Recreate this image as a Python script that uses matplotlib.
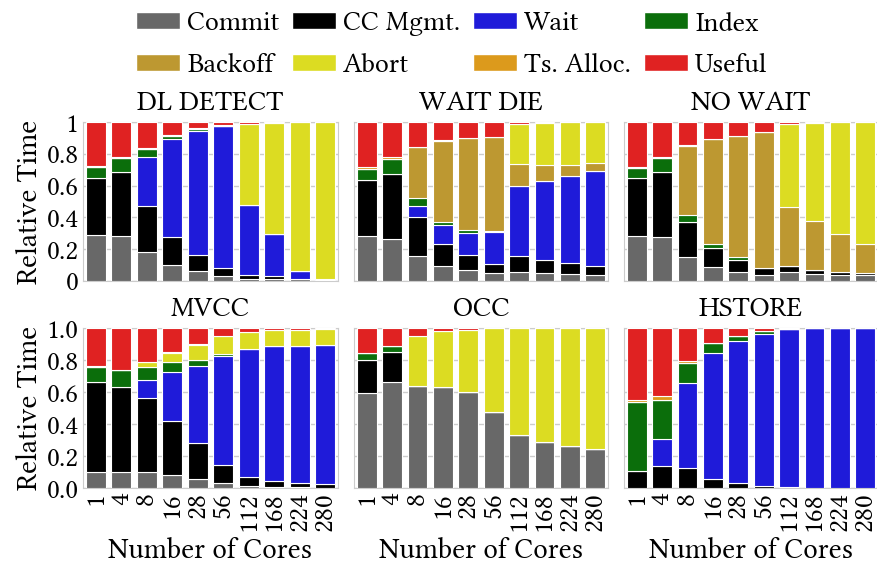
import matplotlib
matplotlib.use("Agg")
import matplotlib.pyplot as plt
import numpy as np
from matplotlib.patches import Patch

plt.rcParams['font.family'] = ['Linux Libertine O', 'Libertinus Serif', 'Crimson Text', 'DejaVu Serif']
FS = 20
plt.rcParams['font.size'] = FS

cores = ["1", "4", "8", "16", "28", "56", "112", "168", "224", "280"]
components = ["Commit", "CC Mgmt.", "Wait", "Index", "Backoff", "Abort", "Ts. Alloc.", "Useful"]
colors = ["#686868", "#000000", "#1f1bd9", "#0b6e0b", "#bd9831", "#dcdc22", "#dc9a1c", "#e02222"]

# each: Commit, CC Mgmt., Wait, Index, Backoff, Abort, Ts. Alloc., Useful
dl_detect = [
    [.29, .28, .185, .10, .06, .03, .015, .015, .01, .005],
    [.355, .405, .285, .175, .105, .05, .023, .015, .005, .002],
    [0, 0, .31, .62, .78, .895, .439, .267, .048, .003],
    [.07, .09, .05, .02, .01, 0, 0, 0, 0, 0],
    [0, 0, 0, 0, 0, 0, 0, 0, 0, 0],
    [0, 0, 0, 0, 0, 0, .513, .698, .937, .99],
    [.01, .005, .005, .005, .005, .005, 0, 0, 0, 0],
    [.275, .22, .165, .08, .04, .02, .01, .005, 0, 0],
]
wait_die = [
    [.28, .265, .16, .095, .07, .05, .055, .05, .045, .04],
    [.355, .41, .24, .14, .095, .06, .10, .085, .07, .055],
    [0, 0, .07, .115, .14, .20, .44, .495, .545, .595],
    [.07, .09, .05, .02, .015, .005, 0, 0, 0, 0],
    [0, 0, .32, .51, .58, .59, .14, .10, .07, .055],
    [0, 0, 0, 0, 0, 0, .25, .265, .27, .255],
    [.01, .015, 0, .005, 0, 0, 0, 0, 0, 0],
    [.285, .22, .16, .115, .10, .095, .015, .005, 0, 0],
]
no_wait = [
    [.285, .275, .15, .085, .055, .04, .055, .045, .04, .035],
    [.36, .41, .22, .125, .08, .04, .04, .025, .015, .015],
    [0, 0, 0, 0, 0, 0, 0, 0, 0, 0],
    [.065, .09, .045, .02, .015, 0, 0, 0, 0, 0],
    [0, 0, .435, .66, .76, .855, .37, .31, .24, .18],
    [0, 0, 0, 0, 0, 0, .52, .615, .705, .77],
    [.005, .005, .005, 0, 0, 0, 0, 0, 0, 0],
    [.285, .22, .145, .11, .09, .065, .015, .005, 0, 0],
]
mvcc = [
    [.10, .10, .10, .08, .055, .03, .015, .008, .005, .003],
    [.565, .53, .465, .34, .225, .115, .055, .037, .027, .022],
    [0, 0, .11, .305, .485, .68, .80, .84, .858, .87],
    [.09, .105, .08, .06, .035, .015, 0, 0, 0, 0],
    [0, 0, 0, 0, 0, 0, 0, 0, 0, 0],
    [0, 0, .03, .06, .095, .11, .105, .10, .095, .097],
    [.005, .005, .005, .005, .005, 0, 0, 0, 0, 0],
    [.24, .26, .21, .15, .10, .05, .025, .015, .015, .008],
]
occ = [
    [.595, .665, .635, .63, .60, .475, .33, .285, .265, .245],
    [.205, .185, 0, 0, 0, 0, 0, 0, 0, 0],
    [0, 0, 0, 0, 0, 0, 0, 0, 0, 0],
    [.045, .035, 0, 0, 0, 0, 0, 0, 0, 0],
    [0, 0, 0, 0, 0, 0, 0, 0, 0, 0],
    [0, 0, .315, .35, .39, .525, .67, .715, .735, .755],
    [0, 0, 0, 0, 0, 0, 0, 0, 0, 0],
    [.155, .115, .05, .02, .01, 0, 0, 0, 0, 0],
]
hstore = [
    [0, 0, 0, 0, 0, 0, 0, 0, 0, 0],
    [.105, .135, .125, .057, .03, .015, .005, .003, .002, .001],
    [0, .17, .53, .785, .886, .95, .99, .997, .998, .999],
    [.43, .245, .125, .063, .033, .015, 0, 0, 0, 0],
    [0, 0, 0, 0, 0, 0, 0, 0, 0, 0],
    [0, 0, 0, 0, 0, 0, 0, 0, 0, 0],
    [.015, .025, .015, 0, 0, 0, 0, 0, 0, 0],
    [.45, .425, .205, .095, .051, .02, .005, 0, 0, 0],
]

titles = ["DL DETECT", "WAIT DIE", "NO WAIT", "MVCC", "OCC", "HSTORE"]
datasets = [dl_detect, wait_die, no_wait, mvcc, occ, hstore]

W, H = 877, 566
fig = plt.figure(figsize=(W / 100, H / 100), dpi=100)

col_px = [(83, 338), (354, 608), (624, 878)]
row_px = [(122, 281), (328, 488)]

x = np.arange(len(cores))
for i, (title, data) in enumerate(zip(titles, datasets)):
    r, c = divmod(i, 3)
    x0, x1 = col_px[c]
    y0, y1 = row_px[r]
    ax = fig.add_axes([x0 / W, 1 - y1 / H, (x1 - x0) / W, (y1 - y0) / H])
    bottom = np.zeros(len(cores))
    for vals, col in zip(data, colors):
        vals = np.array(vals, dtype=float)
        ax.bar(x, vals, width=0.78, bottom=bottom, color=col,
               edgecolor="white", linewidth=0.8, zorder=3)
        bottom += vals
    ax.set_xlim(-0.5, 9.5)
    ax.set_ylim(0, 1.0)
    ax.set_yticks([0, 0.2, 0.4, 0.6, 0.8, 1.0])
    ax.yaxis.grid(True, color="#cccccc", linewidth=1, zorder=0)
    ax.set_axisbelow(True)
    for s in ax.spines.values():
        s.set_color("#cccccc")
    ax.tick_params(length=0, pad=3)
    ax.set_title(title, fontsize=20.5, pad=9)
    if c == 0:
        if r == 0:
            ax.set_yticklabels(["0", "0.2", "0.4", "0.6", "0.8", "1"])
        else:
            ax.set_yticklabels(["0.0", "0.2", "0.4", "0.6", "0.8", "1.0"])
        ax.set_ylabel("Relative Time", fontsize=21, labelpad=2)
    else:
        ax.set_yticklabels([])
    ax.set_xticks(x)
    if r == 1:
        ax.set_xticklabels(cores, rotation=90)
        ax.set_xlabel("Number of Cores", fontsize=21, labelpad=4)
    else:
        ax.set_xticklabels([])

handles = [Patch(facecolor=col, edgecolor="white", label=lab) for lab, col in zip(components, colors)]
order = [0, 4, 1, 5, 2, 6, 3, 7]
fig.legend([handles[k] for k in order], [components[k] for k in order],
           ncol=4, loc="upper center", bbox_to_anchor=(0.515, 1.024), frameon=False,
           fontsize=FS, handlelength=1.6, handleheight=0.55, handletextpad=0.25,
           columnspacing=0.45, labelspacing=0.6)

fig.savefig("out.png", dpi=100)
